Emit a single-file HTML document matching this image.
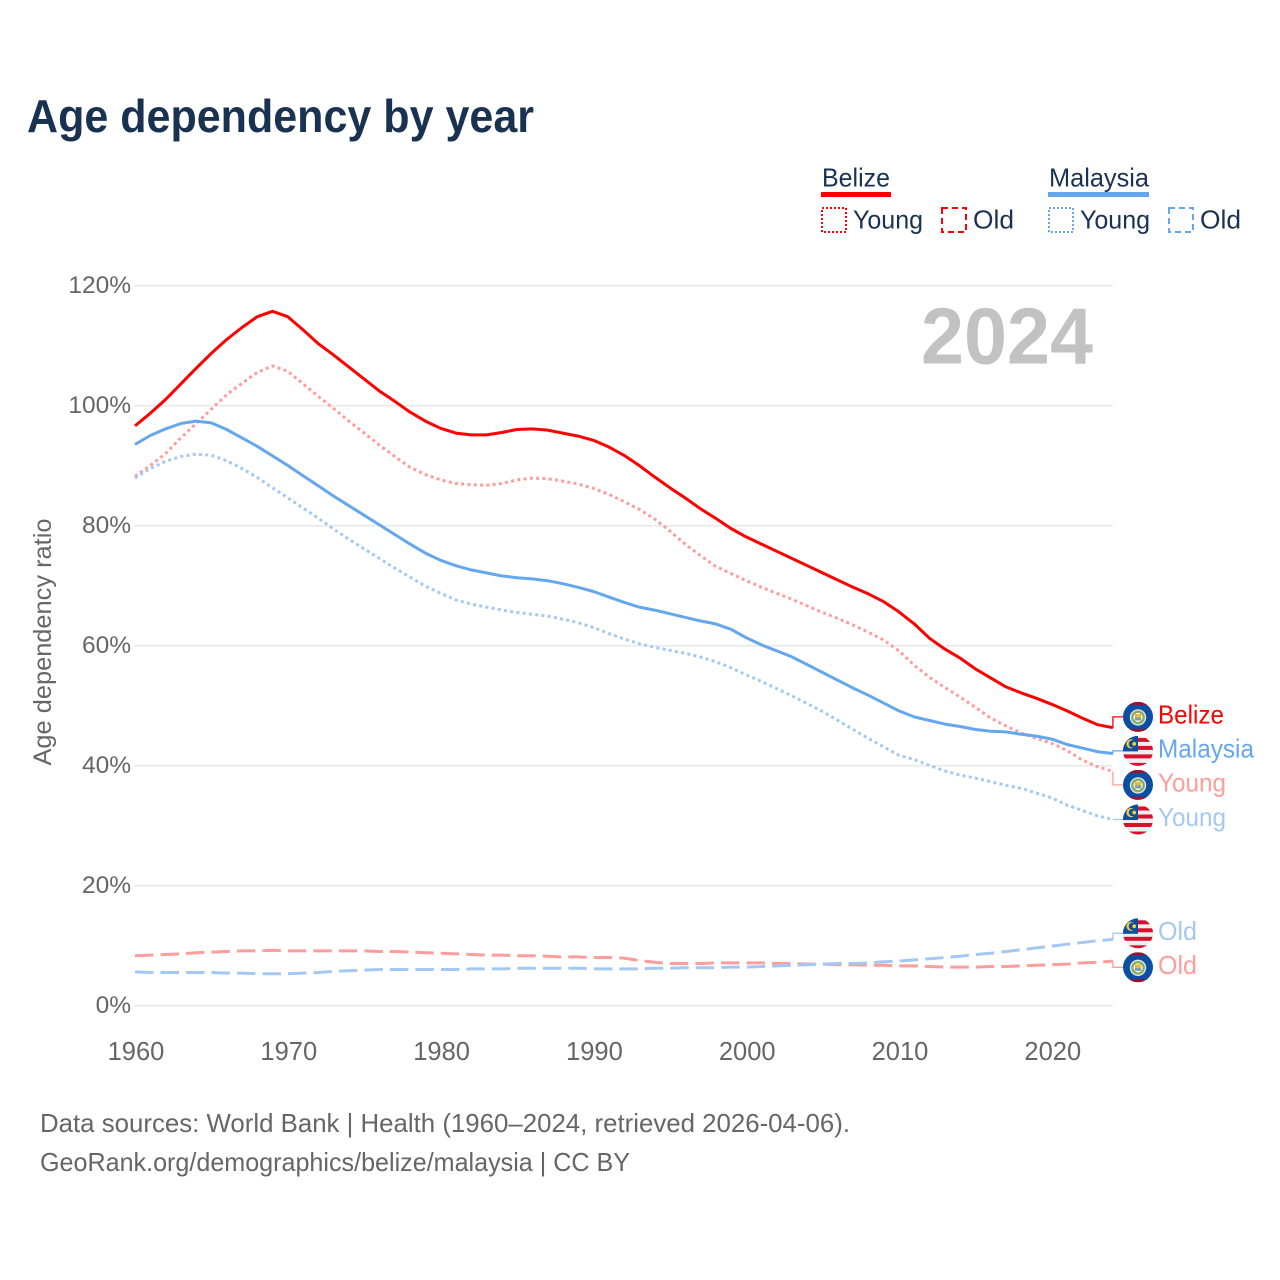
<!DOCTYPE html>
<html lang="en">
<head>
<meta charset="utf-8">
<title>Age dependency by year</title>
<style>
html,body{margin:0;padding:0;background:#fff;}
svg{display:block;font-family:"Liberation Sans",Arial,sans-serif;}
</style>
</head>
<body>
<svg id="chart" xmlns="http://www.w3.org/2000/svg" width="1280" height="1280" viewBox="0 0 1280 1280">
  <rect x="0" y="0" width="1280" height="1280" fill="#fff"/>
  <text x="27" y="132" font-size="46" font-weight="700" fill="#1a3251" textLength="507" lengthAdjust="spacingAndGlyphs">Age dependency by year</text>

  <g font-size="26" fill="#1a3251">
    <g>
      <text x="822" y="186.5" textLength="68" lengthAdjust="spacingAndGlyphs">Belize</text>
      <rect x="821" y="192" width="70" height="5" fill="#ff0000"/>
      <g>
        <rect x="822" y="208" width="24" height="24" fill="none" stroke="#ff0000" stroke-width="2" stroke-dasharray="2 2"/>
        <text x="853" y="228.5" textLength="70" lengthAdjust="spacingAndGlyphs">Young</text>
      </g>
      <g>
        <rect x="942" y="208" width="24" height="24" fill="none" stroke="#ff0000" stroke-width="2" stroke-dasharray="6 4"/>
        <text x="973" y="228.5" textLength="41" lengthAdjust="spacingAndGlyphs">Old</text>
      </g>
    </g>
    <g>
      <text x="1049" y="186.5" textLength="100" lengthAdjust="spacingAndGlyphs">Malaysia</text>
      <rect x="1048" y="192" width="101" height="5" fill="#64a7ee"/>
      <g>
        <rect x="1049" y="208" width="24" height="24" fill="none" stroke="#64a7ee" stroke-width="2" stroke-dasharray="2 2"/>
        <text x="1080" y="228.5" textLength="70" lengthAdjust="spacingAndGlyphs">Young</text>
      </g>
      <g>
        <rect x="1169" y="208" width="24" height="24" fill="none" stroke="#64a7ee" stroke-width="2" stroke-dasharray="6 4"/>
        <text x="1200" y="228.5" textLength="41" lengthAdjust="spacingAndGlyphs">Old</text>
      </g>
    </g>
  </g>

  <g id="grid"></g>
  <g id="yticks"></g>
  <g id="xticks"></g>
  <text transform="translate(51 642) rotate(-90)" text-anchor="middle" font-size="25" fill="#666" textLength="247" lengthAdjust="spacingAndGlyphs">Age dependency ratio</text>
  <text x="921" y="363.5" font-size="80" font-weight="700" fill="#c2c2c2" textLength="172" lengthAdjust="spacingAndGlyphs">2024</text>
  <g id="series"></g>
  <g id="endlabels"></g>

  <text x="40" y="1132" font-size="26" fill="#666" textLength="810" lengthAdjust="spacingAndGlyphs">Data sources: World Bank | Health (1960–2024, retrieved 2026-04-06).</text>
  <text x="40" y="1171" font-size="26" fill="#666" textLength="590" lengthAdjust="spacingAndGlyphs">GeoRank.org/demographics/belize/malaysia | CC BY</text>
</svg>

<script>
const firstYear = 1960;
const yTickValues = [0, 20, 40, 60, 80, 100, 120];
const xTickValues = [1960, 1970, 1980, 1990, 2000, 2010, 2020];

const belizeTotal = [96.6,98.7,101,103.6,106.2,108.7,111,113,114.8,115.7,114.8,112.6,110.3,108.4,106.4,104.4,102.4,100.7,98.9,97.4,96.2,95.4,95.1,95.1,95.5,96,96.1,95.9,95.4,94.9,94.2,93.1,91.7,90,88.1,86.3,84.6,82.8,81.2,79.5,78.1,76.9,75.7,74.5,73.3,72.1,70.9,69.7,68.6,67.3,65.6,63.6,61.2,59.4,57.9,56.1,54.6,53.1,52.1,51.2,50.2,49.1,47.9,46.8,46.3];
const belizeYoung = [88.2,90,92,94.6,97,99.4,101.8,103.7,105.5,106.6,105.7,103.6,101.5,99.5,97.4,95.4,93.4,91.5,89.7,88.5,87.6,87,86.8,86.7,87,87.6,87.9,87.8,87.4,86.9,86.2,85.2,84,82.7,81.1,79.1,76.9,75,73.2,72,70.8,69.7,68.7,67.7,66.6,65.5,64.5,63.4,62.2,60.9,59.1,56.7,54.7,53,51.4,49.7,47.9,46.6,45.4,44.5,43.7,42.5,40.9,39.8,39];
const belizeOld = [8.3,8.4,8.5,8.6,8.8,8.9,9,9.1,9.1,9.2,9.1,9.1,9.1,9.1,9.1,9.1,9,9,8.9,8.8,8.7,8.6,8.5,8.4,8.4,8.3,8.3,8.2,8.1,8.1,8,8,7.9,7.5,7.2,7,7,7,7.1,7.1,7.1,7.1,7,7,6.9,6.9,6.8,6.8,6.7,6.7,6.6,6.6,6.5,6.4,6.4,6.4,6.5,6.5,6.6,6.7,6.8,6.9,7.1,7.2,7.4];
const malaysiaTotal = [93.5,95,96.1,97,97.4,97.1,96,94.6,93.2,91.6,90,88.3,86.6,84.9,83.3,81.7,80.1,78.5,76.9,75.4,74.2,73.3,72.6,72.1,71.6,71.3,71.1,70.8,70.3,69.7,69,68.1,67.2,66.4,65.9,65.3,64.7,64.1,63.6,62.7,61.3,60.1,59.1,58.1,56.8,55.5,54.2,52.9,51.7,50.4,49.1,48.1,47.5,46.9,46.5,46,45.7,45.6,45.2,44.9,44.4,43.5,42.9,42.3,42];
const malaysiaYoung = [87.9,89.5,90.7,91.5,91.9,91.7,90.8,89.5,88,86.3,84.6,82.9,81.2,79.4,77.7,76.1,74.5,72.9,71.4,69.9,68.7,67.6,66.9,66.4,65.9,65.5,65.2,64.9,64.4,63.8,63,62,61.1,60.3,59.7,59.2,58.7,58.1,57.3,56.3,55.1,54,52.8,51.6,50.3,49,47.5,46,44.5,43.1,41.7,41,40,39.1,38.4,37.9,37.3,36.7,36.2,35.4,34.6,33.4,32.5,31.6,31];
const malaysiaOld = [5.6,5.5,5.5,5.5,5.5,5.5,5.4,5.4,5.3,5.3,5.3,5.4,5.5,5.7,5.8,5.9,6,6,6,6,6,6,6.1,6.1,6.1,6.2,6.2,6.2,6.2,6.2,6.1,6.1,6.1,6.1,6.2,6.2,6.3,6.3,6.3,6.4,6.4,6.5,6.6,6.7,6.8,6.9,7,7,7.1,7.3,7.4,7.6,7.8,8,8.2,8.5,8.7,9,9.3,9.6,9.9,10.2,10.5,10.8,11];

const seriesNames = ['belize-total','belize-young','belize-old','malaysia-total','malaysia-young','malaysia-old'];
const seriesLabels = ['Belize','Young','Old','Malaysia','Young','Old'];
const seriesValues = [belizeTotal,belizeYoung,belizeOld,malaysiaTotal,malaysiaYoung,malaysiaOld];
const seriesCountry = ['belize','belize','belize','malaysia','malaysia','malaysia'];
const seriesKind = ['total','young','old','total','young','old'];

const NS = 'http://www.w3.org/2000/svg';
const xOf = year => 135 + (year - 1960) * 15.28;
const yOf = pct => 1005.5 - pct * 6;
const COLORS = {
  belize: { total: '#ff0000', light: '#ff9c9c' },
  malaysia: { total: '#64a7ee', light: '#a3c9f3' }
};
const DASH = { total: null, young: '3 3.3', old: '18.5 7' };
const LABEL_WIDTH = { Belize: 66, Malaysia: 96, Young: 68, Old: 39 };

function make(tag, attrs, parent) {
  const el = document.createElementNS(NS, tag);
  for (const k in attrs) el.setAttribute(k, attrs[k]);
  parent.appendChild(el);
  return el;
}

const grid = document.getElementById('grid');
const yticks = document.getElementById('yticks');
const xticks = document.getElementById('xticks');
const seriesG = document.getElementById('series');
const endG = document.getElementById('endlabels');

yTickValues.forEach(v => {
  const line = make('line', { x1: 135, x2: 1113, y1: yOf(v) + 0.2, y2: yOf(v) + 0.2, stroke: '#e8e8e8', 'stroke-width': 1.5 }, grid);
  
  
  const t = make('text', { x: 131, y: yOf(v) + 7.5, 'text-anchor': 'end', 'font-size': 24.5, fill: '#666' }, yticks);
  
  
  t.textContent = v + '%';
});

xTickValues.forEach(v => {
  const t = make('text', { x: xOf(v) + 1, y: 1060, 'text-anchor': 'middle', 'font-size': 25.5, fill: '#666' }, xticks);
  
  
  t.textContent = v;
});

/* series lines: old first, then young, then totals on top */
[2, 5, 1, 4, 3, 0].forEach(i => {
  const kind = seriesKind[i];
  const pal = COLORS[seriesCountry[i]];
  const color = kind === 'total' ? pal.total : pal.light;
  const pts = seriesValues[i].map((v, j) => xOf(firstYear + j).toFixed(2) + ',' + yOf(v).toFixed(2)).join(' ');
  const line = make('polyline', { points: pts, fill: 'none', stroke: color, 'stroke-width': 3, 'stroke-linejoin': 'round' }, seriesG);
  if (DASH[kind]) line.setAttribute('stroke-dasharray', DASH[kind]);
  
  
});

/* dodge end labels: cluster neighbours closer than the minimum gap around their mean */
const GAP = 34;
const ends = seriesValues.map((vals, i) => ({ i, y: yOf(vals[vals.length - 1]) })).sort((a, b) => a.y - b.y);
let clusters = ends.map(e => ({ items: [e], mean: e.y }));
let merged = true;
while (merged) {
  merged = false;
  for (let c = 0; c < clusters.length - 1; c++) {
    const a = clusters[c], b = clusters[c + 1];
    const aBottom = a.mean + (a.items.length - 1) * GAP / 2;
    const bTop = b.mean - (b.items.length - 1) * GAP / 2;
    if (bTop - aBottom < GAP) {
      const items = a.items.concat(b.items);
      clusters.splice(c, 2, { items, mean: items.reduce((s, e) => s + e.y, 0) / items.length });
      merged = true;
      break;
    }
  }
}

function drawFlag(country, cx, cy, parent) {
  const g = make('g', { transform: 'translate(' + cx + ' ' + cy + ')', 'clip-path': 'url(#flag-clip)' }, parent);
  
  
  if (country === 'belize') {
    make('rect', { x: -15, y: -15, width: 30, height: 30, fill: '#0b4ea2' }, g);
    make('rect', { x: -15, y: -15, width: 30, height: 3, fill: '#9e1030' }, g);
    make('rect', { x: -15, y: 12, width: 30, height: 3, fill: '#9e1030' }, g);
    make('circle', { cy: 0.5, r: 8.2, fill: '#dfe8e4' }, g);
    make('circle', { cy: 0.5, r: 5.7, fill: '#fff', stroke: '#86ad62', 'stroke-width': 2.3 }, g);
    make('rect', { x: -3.2, y: -3, width: 6.4, height: 3.4, fill: '#e8b93a' }, g);
    make('rect', { x: -3.2, y: 0.4, width: 6.4, height: 3.2, fill: '#7f9db0' }, g);
  } else {
    make('rect', { x: -15, y: -15, width: 30, height: 30, fill: '#eeeeee' }, g);
    [-13, -5, 3.5, 12].forEach(y => {
      make('rect', { x: -15, y: y, width: 30, height: 4, fill: '#d80f2f' }, g);
    });
    make('rect', { x: -15, y: -15, width: 15, height: 15.5, fill: '#0b4ea2' }, g);
    make('circle', { cx: -7, cy: -7, r: 4.6, fill: '#ffcf2e' }, g);
    make('circle', { cx: -5.5, cy: -7, r: 3.8, fill: '#0b4ea2' }, g);
    make('circle', { cx: -3.8, cy: -7, r: 1.9, fill: '#ffcf2e' }, g);
  }
}

const defs = make('defs', {}, endG);
const clip = make('clipPath', { id: 'flag-clip' }, defs);
make('circle', { r: 15 }, clip);

clusters.forEach(cluster => {
  const n = cluster.items.length;
  cluster.items.forEach((e, k) => {
    const i = e.i;
    const labelY = cluster.mean + (k - (n - 1) / 2) * GAP;
    const kind = seriesKind[i];
    const country = seriesCountry[i];
    const pal = COLORS[country];
    const color = kind === 'total' ? pal.total : pal.light;
    const x0 = xOf(2024);
    const conn = make('path', { d: 'M' + x0 + ' ' + e.y + 'V' + labelY + 'H1124', fill: 'none', stroke: color, 'stroke-width': 1.3 }, endG);
    
    
    drawFlag(country, 1138, labelY, endG);
    const t = make('text', { x: 1158, y: labelY + 6.5, 'font-size': 26, fill: color, textLength: LABEL_WIDTH[seriesLabels[i]], lengthAdjust: 'spacingAndGlyphs' }, endG);
    
    
    t.textContent = seriesLabels[i];
  });
});
</script>
</body>
</html>
